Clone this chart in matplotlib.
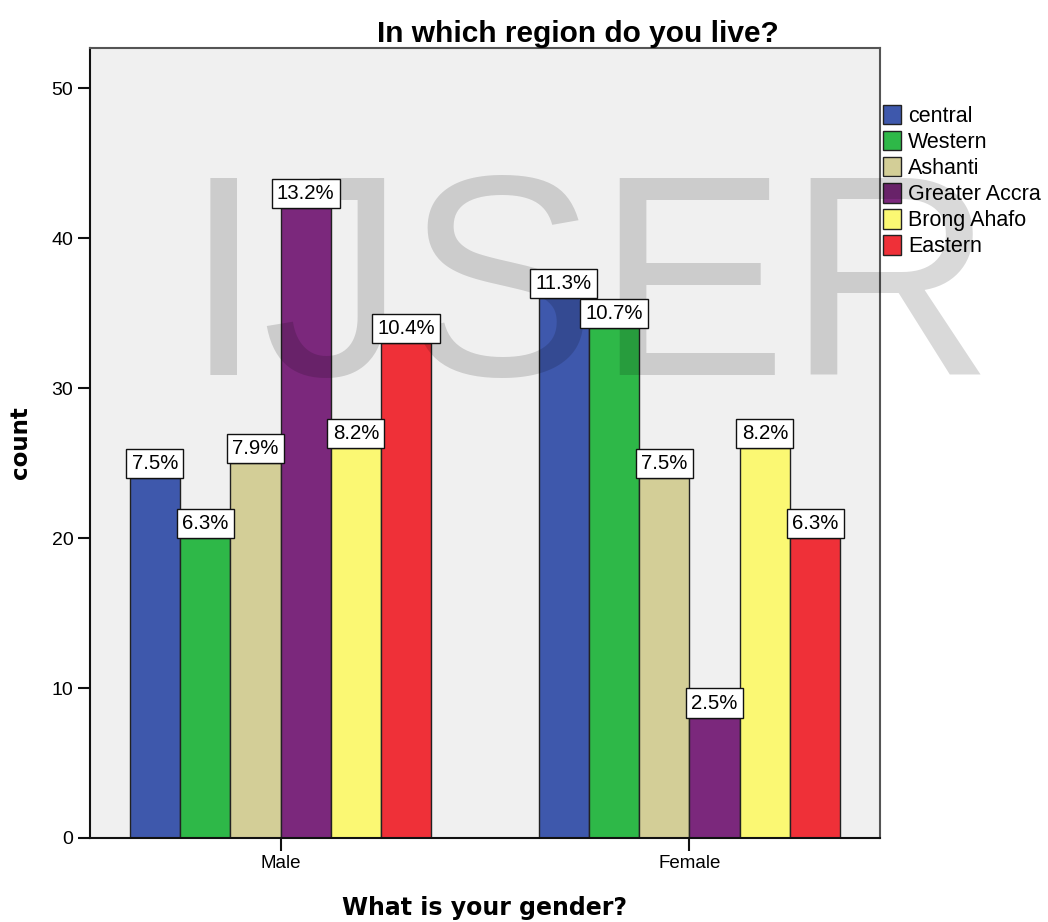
import matplotlib
matplotlib.use("Agg")
import matplotlib.pyplot as plt
from matplotlib.patches import Patch
import numpy as np

groups = ["Male", "Female"]
regions = ["central", "Western", "Ashanti", "Greater Accra", "Brong Ahafo", "Eastern"]
male_counts = [24, 20, 25, 42, 26, 33]
female_counts = [36, 34, 24, 8, 26, 20]
male_pct = ["7.5%", "6.3%", "7.9%", "13.2%", "8.2%", "10.4%"]
female_pct = ["11.3%", "10.7%", "7.5%", "2.5%", "8.2%", "6.3%"]
colors = ["#3E58AC", "#2EB848", "#D3CE97", "#7B287C", "#FBF873", "#EF3038"]
yticks = [0, 10, 20, 30, 40, 50]

W, H = 1048, 922
fig = plt.figure(figsize=(W / 100, H / 100), dpi=100)
ax = fig.add_axes([90 / W, 1 - 838 / H, (880 - 90) / W, (838 - 48) / H])
ax.set_facecolor("#F0F0F0")

font = "Liberation Sans"
w = 0.123
gx = np.arange(len(groups))
counts = [male_counts, female_counts]
pcts = [male_pct, female_pct]
for i, reg in enumerate(regions):
    xs = gx + (i - 2.5) * w
    vals = [counts[g][i] for g in range(len(groups))]
    ax.bar(xs, vals, width=w, color=colors[i], edgecolor="#222222",
           linewidth=1.0, zorder=2)
    for g in range(len(groups)):
        ax.annotate(pcts[g][i], (xs[g], vals[g]), xytext=(0, 3.8),
                    textcoords="offset points", ha="center", va="bottom",
                    fontsize=14.7, family=font, zorder=5,
                    bbox=dict(boxstyle="square,pad=0.26", fc="white",
                              ec="#111111", lw=1.0))

ax.set_xlim(-0.466, 1.466)
ax.set_ylim(0, 52.7)
ax.set_xticks(gx)
ax.set_xticklabels(groups, family=font, fontsize=13.5)
ax.set_yticks(yticks)
ax.set_yticklabels([str(t) for t in yticks], family=font, fontsize=14)
ax.tick_params(axis="y", length=9, width=1.5, pad=3, color="#111111")
ax.tick_params(axis="x", length=9, width=1.5, pad=3, color="#111111")
for s in ["left", "bottom"]:
    ax.spines[s].set_color("#111111")
    ax.spines[s].set_linewidth(1.5)
for s in ["top", "right"]:
    ax.spines[s].set_color("#555555")
    ax.spines[s].set_linewidth(1.5)

# watermark
ax.text(0.5 * (204 + 975) / W, 1 - 375 / H, "IJSER", transform=fig.transFigure,
        ha="center", va="baseline", fontsize=206, family=font,
        color="black", alpha=0.15, zorder=3, clip_on=False)

handles = [Patch(facecolor=c, edgecolor="#222222", linewidth=1.0) for c in colors]
leg = ax.legend(handles, regions, loc="upper left",
                bbox_to_anchor=(883 / W, 1 - 105 / H),
                bbox_transform=fig.transFigure, frameon=False,
                prop=dict(family=font, size=15.5), borderpad=0, borderaxespad=0,
                labelspacing=0.19, handlelength=0.85, handleheight=1.0,
                handletextpad=0.3)
leg.set_zorder(2.5)

fig.text(578 / W, 1 - 42 / H, "In which region do you live?", ha="center",
         va="baseline", fontsize=21.5, fontweight="bold", family=font)
fig.text(485 / W, 1 - 915 / H, "What is your gender?", ha="center",
         va="baseline", fontsize=17, fontweight="bold", family="DejaVu Sans")
fig.text(21 / W, 1 - 443 / H, "count", ha="center", va="center", rotation=90,
         fontsize=16.5, fontweight="bold", family="DejaVu Sans")

fig.savefig("out.png", dpi=100)
